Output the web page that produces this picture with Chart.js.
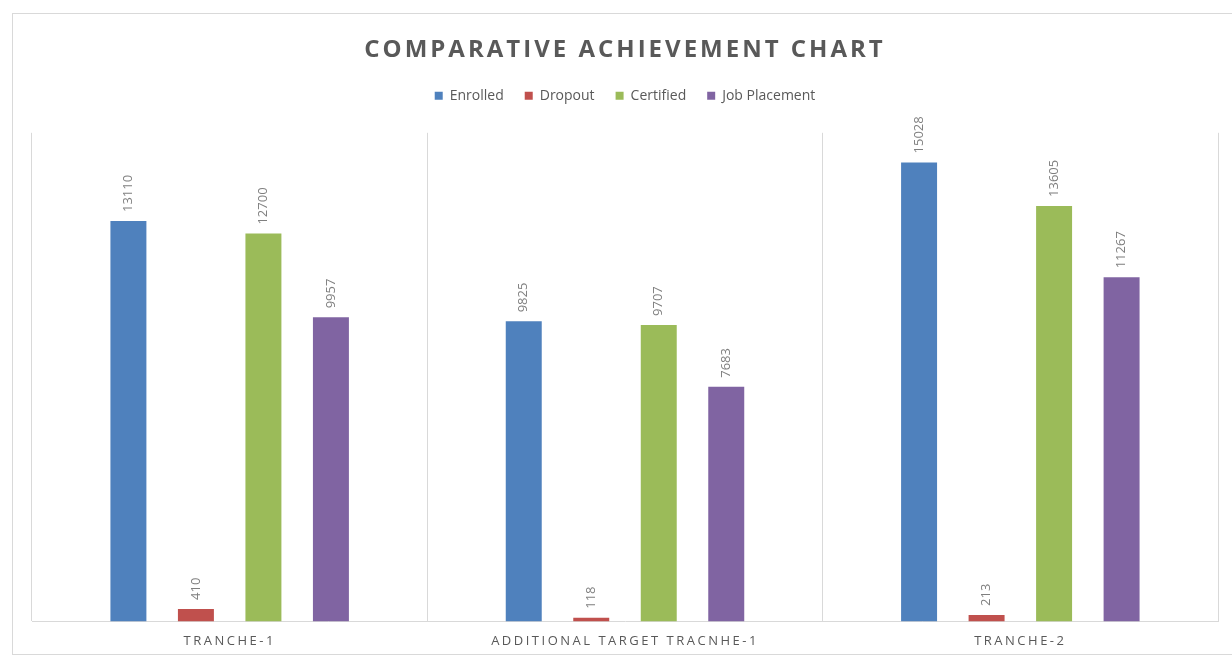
<!DOCTYPE html>
<html>
<head>
<meta charset="utf-8">
<script src="https://cdn.jsdelivr.net/npm/chart.js@4/dist/chart.umd.min.js"></script>
<style>
  html, body { margin: 0; padding: 0; background: #fff; }
  body { width: 1232px; height: 661px; position: relative; overflow: hidden; }
  .frame { position: absolute; left: 12px; top: 13px; width: 1240px; height: 640px; border: 1px solid #d9d9d9; }
  .wrap { position: absolute; left: 0; top: 0; width: 1232px; height: 661px; }
</style>
</head>
<body>
<div class="frame"></div>
<div class="wrap"><canvas id="chart"></canvas></div>
<script>
// categories and series
const categories = ['TRANCHE-1', 'ADDITIONAL TARGET TRACNHE-1', 'TRANCHE-2'];
const enrolled = [13110, 9825, 15028];
const dropout = [410, 118, 213];
const certified = [12700, 9707, 13605];
const jobPlacement = [9957, 7683, 11267];

const TEXT = '#595959';
const LABEL = '#7f7f7f';
const GRID = '#d9d9d9';
const FONT = "'Open Sans', 'Liberation Sans', sans-serif";

// letter spacing for title + x labels, extra room under the legend
const spacing = {
  id: 'spacing',
  beforeInit(chart) {
    const legend = chart.legend;
    if (legend) {
      const fit = legend.fit;
      legend.fit = function () {
        fit.call(this);
        this.height += 20;
      };
    }
    const title = chart.titleBlock;
    if (title) {
      const draw = title.draw;
      title.draw = function () {
        const ctx = chart.ctx;
        ctx.save();
        ctx.letterSpacing = '3px';
        draw.call(this);
        ctx.restore();
      };
    }
  },
  beforeDraw(chart) {
    const x = chart.scales.x;
    if (x && !x._spaced) {
      const drawLabels = x.drawLabels;
      x.drawLabels = function (area) {
        const ctx = chart.ctx;
        ctx.save();
        ctx.letterSpacing = '2.5px';
        drawLabels.call(this, area);
        ctx.restore();
      };
      x._spaced = true;
    }
  },
};

// rotated value labels above each bar
const valueLabels = {
  id: 'valueLabels',
  afterDatasetsDraw(chart) {
    const ctx = chart.ctx;
    ctx.save();
    ctx.font = `13px ${FONT}`;
    ctx.fillStyle = LABEL;
    ctx.textAlign = 'left';
    ctx.textBaseline = 'middle';
    chart.data.datasets.forEach((ds, i) => {
      const meta = chart.getDatasetMeta(i);
      meta.data.forEach((bar, j) => {
        ctx.save();
        ctx.translate(bar.x, bar.y - 9);
        ctx.rotate(-Math.PI / 2);
        ctx.fillText(String(ds.data[j]), 0, 0);
        ctx.restore();
      });
    });
    ctx.restore();
  },
};

const ds = (label, data, color) => ({
  label,
  data,
  backgroundColor: color,
  borderWidth: 0,
  categoryPercentage: 0.683,
  barPercentage: 0.533,
});

new Chart(document.getElementById('chart'), {
  type: 'bar',
  data: {
    labels: categories,
    datasets: [
      ds('Enrolled', enrolled, '#4f81bd'),
      ds('Dropout', dropout, '#c0504d'),
      ds('Certified', certified, '#9bbb59'),
      ds('Job Placement', jobPlacement, '#8064a2'),
    ],
  },
  options: {
    responsive: true,
    maintainAspectRatio: false,
    animation: false,
    layout: { padding: { left: 32, right: 14, top: 0, bottom: 0 } },
    plugins: {
      title: {
        display: true,
        text: 'COMPARATIVE ACHIEVEMENT CHART',
        color: TEXT,
        font: { family: FONT, size: 24, weight: 'bold' },
        padding: { top: 36, bottom: 3 },
      },
      legend: {
        display: true,
        labels: {
          color: TEXT,
          font: { family: FONT, size: 14 },
          boxWidth: 8,
          boxHeight: 8,
          padding: 21,
        },
      },
      tooltip: { enabled: false },
    },
    scales: {
      x: {
        grid: { color: GRID, offset: true, drawTicks: false },
        border: { color: GRID },
        ticks: { color: TEXT, font: { family: FONT, size: 13 }, padding: 12 },
      },
      y: {
        display: false,
        min: 0,
        max: 16000,
      },
    },
  },
  plugins: [spacing, valueLabels],
});
</script>
</body>
</html>
